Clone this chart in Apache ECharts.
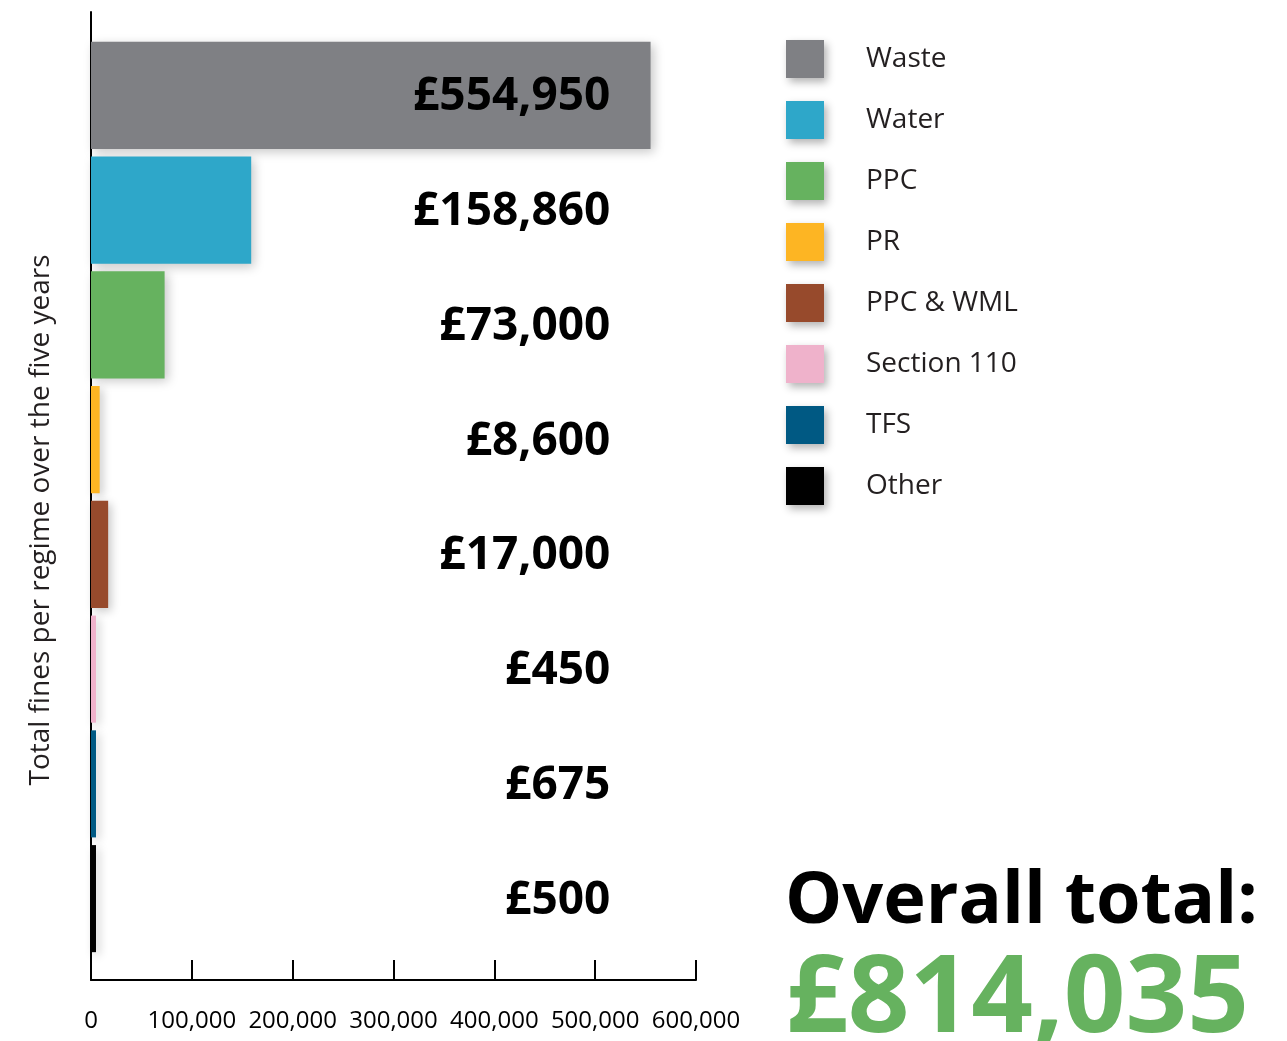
<!DOCTYPE html>
<html>
<head>
<meta charset="utf-8">
<script src="https://cdn.jsdelivr.net/npm/echarts@6/dist/echarts.min.js"></script>
<style>
  html, body { margin: 0; padding: 0; background: #ffffff; }
  #chart { width: 1287px; height: 1041px; }
</style>
</head>
<body>
<div id="chart"></div>
<script>
// ---- data ----
const categories = ['Waste', 'Water', 'PPC', 'PR', 'PPC & WML', 'Section 110', 'TFS', 'Other'];
const fines = [554950, 158860, 73000, 8600, 17000, 450, 675, 500];
const colors = ['#7f8084', '#2ea7c9', '#66b25f', '#fdb523', '#974a2c', '#efb2cb', '#005983', '#000000'];
const xTicks = [0, 100000, 200000, 300000, 400000, 500000, 600000];
const axisTitle = 'Total fines per regime over the five years';
const totalTitle = 'Overall total:';

// ---- helpers ----
const FONT = '"Open Sans", "Noto Sans", sans-serif';
const fmt = v => String(v).replace(/\B(?=(\d{3})+(?!\d))/g, ',');
const total = fines.reduce((a, b) => a + b, 0);
const LABEL_X = 515000; // right edge of value labels, in axis units

const chart = echarts.init(document.getElementById('chart'), null, { renderer: 'canvas' });

const barSeries = categories.map((name, i) => ({
  name: name,
  type: 'bar',
  xAxisIndex: 0,
  yAxisIndex: 0,
  barGap: '-100%',
  barCategoryGap: '6.7%',
  barMinHeight: 5,
  z: 2,
  data: categories.map((c, j) => (j === i ? fines[i] : '-')),
  itemStyle: {
    color: colors[i],
    shadowBlur: 10,
    shadowOffsetX: 3,
    shadowOffsetY: 3,
    shadowColor: 'rgba(0,0,0,0.22)'
  },
  emphasis: { disabled: true },
  silent: true
}));

const labelSeries = {
  name: 'labels',
  type: 'custom',
  xAxisIndex: 0,
  yAxisIndex: 0,
  silent: true,
  z: 20,
  clip: false,
  encode: { x: 1, y: 0 },
  data: fines.map((v, i) => [i, v]),
  renderItem: function (params, api) {
    const cat = api.value(0);
    const val = api.value(1);
    const pt = api.coord([LABEL_X, cat]);
    return {
      type: 'text',
      x: pt[0],
      y: pt[1] + 2,
      z2: 100,
      style: {
        text: '£' + fmt(val),
        align: 'right',
        verticalAlign: 'middle',
        fill: '#000000',
        font: 'bold 46px ' + FONT
      }
    };
  }
};

const option = {
  backgroundColor: '#ffffff',
  animation: false,
  textStyle: { fontFamily: FONT },
  title: [
    {
      text: totalTitle,
      left: 785,
      top: 866,
      padding: 0,
      textStyle: { fontFamily: FONT, fontWeight: 'bold', fontSize: 72, color: '#000000' }
    },
    {
      text: '£' + fmt(total),
      left: 786,
      top: 947,
      padding: 0,
      textStyle: { fontFamily: FONT, fontWeight: 'bold', fontSize: 108, color: '#66b25f' }
    }
  ],
  legend: {
    data: categories,
    orient: 'vertical',
    left: 786,
    top: 40,
    padding: 0,
    itemWidth: 38,
    itemHeight: 38,
    itemGap: 23,
    icon: 'rect',
    selectedMode: false,
    itemStyle: {
      shadowBlur: 8,
      shadowOffsetX: 3,
      shadowOffsetY: 4,
      shadowColor: 'rgba(0,0,0,0.3)'
    },
    textStyle: {
      fontFamily: FONT,
      fontSize: 28,
      color: '#231f20',
      padding: [0, 0, 0, 37]
    }
  },
  grid: [
    { left: 91, right: 591, top: 38, bottom: 85, containLabel: false },
    { left: 91, right: 591, top: 12, bottom: 61, containLabel: false }
  ],
  xAxis: [
    { gridIndex: 0, type: 'value', min: 0, max: 600000, show: false },
    {
      gridIndex: 1,
      type: 'value',
      min: xTicks[0],
      max: xTicks[xTicks.length - 1],
      interval: xTicks[1] - xTicks[0],
      axisLine: { show: true, onZero: false, lineStyle: { color: '#000000', width: 2 } },
      axisTick: { show: true, inside: true, length: 20, lineStyle: { color: '#000000', width: 2 } },
      splitLine: { show: false },
      axisLabel: {
        margin: 29,
        fontFamily: FONT,
        fontSize: 24,
        color: '#000000',
        formatter: v => fmt(v)
      }
    }
  ],
  yAxis: [
    { gridIndex: 0, type: 'category', data: categories, inverse: true, show: false },
    {
      gridIndex: 1,
      type: 'value',
      min: 0,
      max: 1,
      axisLine: { show: true, onZero: false, lineStyle: { color: '#000000', width: 2 } },
      axisTick: { show: false },
      axisLabel: { show: false },
      splitLine: { show: false },
      name: axisTitle,
      nameLocation: 'middle',
      nameGap: 36,
      nameTextStyle: {
        fontFamily: FONT,
        fontSize: 28,
        color: '#231f20',
        padding: [0, 48, 0, 0]
      }
    }
  ],
  series: barSeries.concat([labelSeries])
};

chart.setOption(option);
</script>
</body>
</html>
